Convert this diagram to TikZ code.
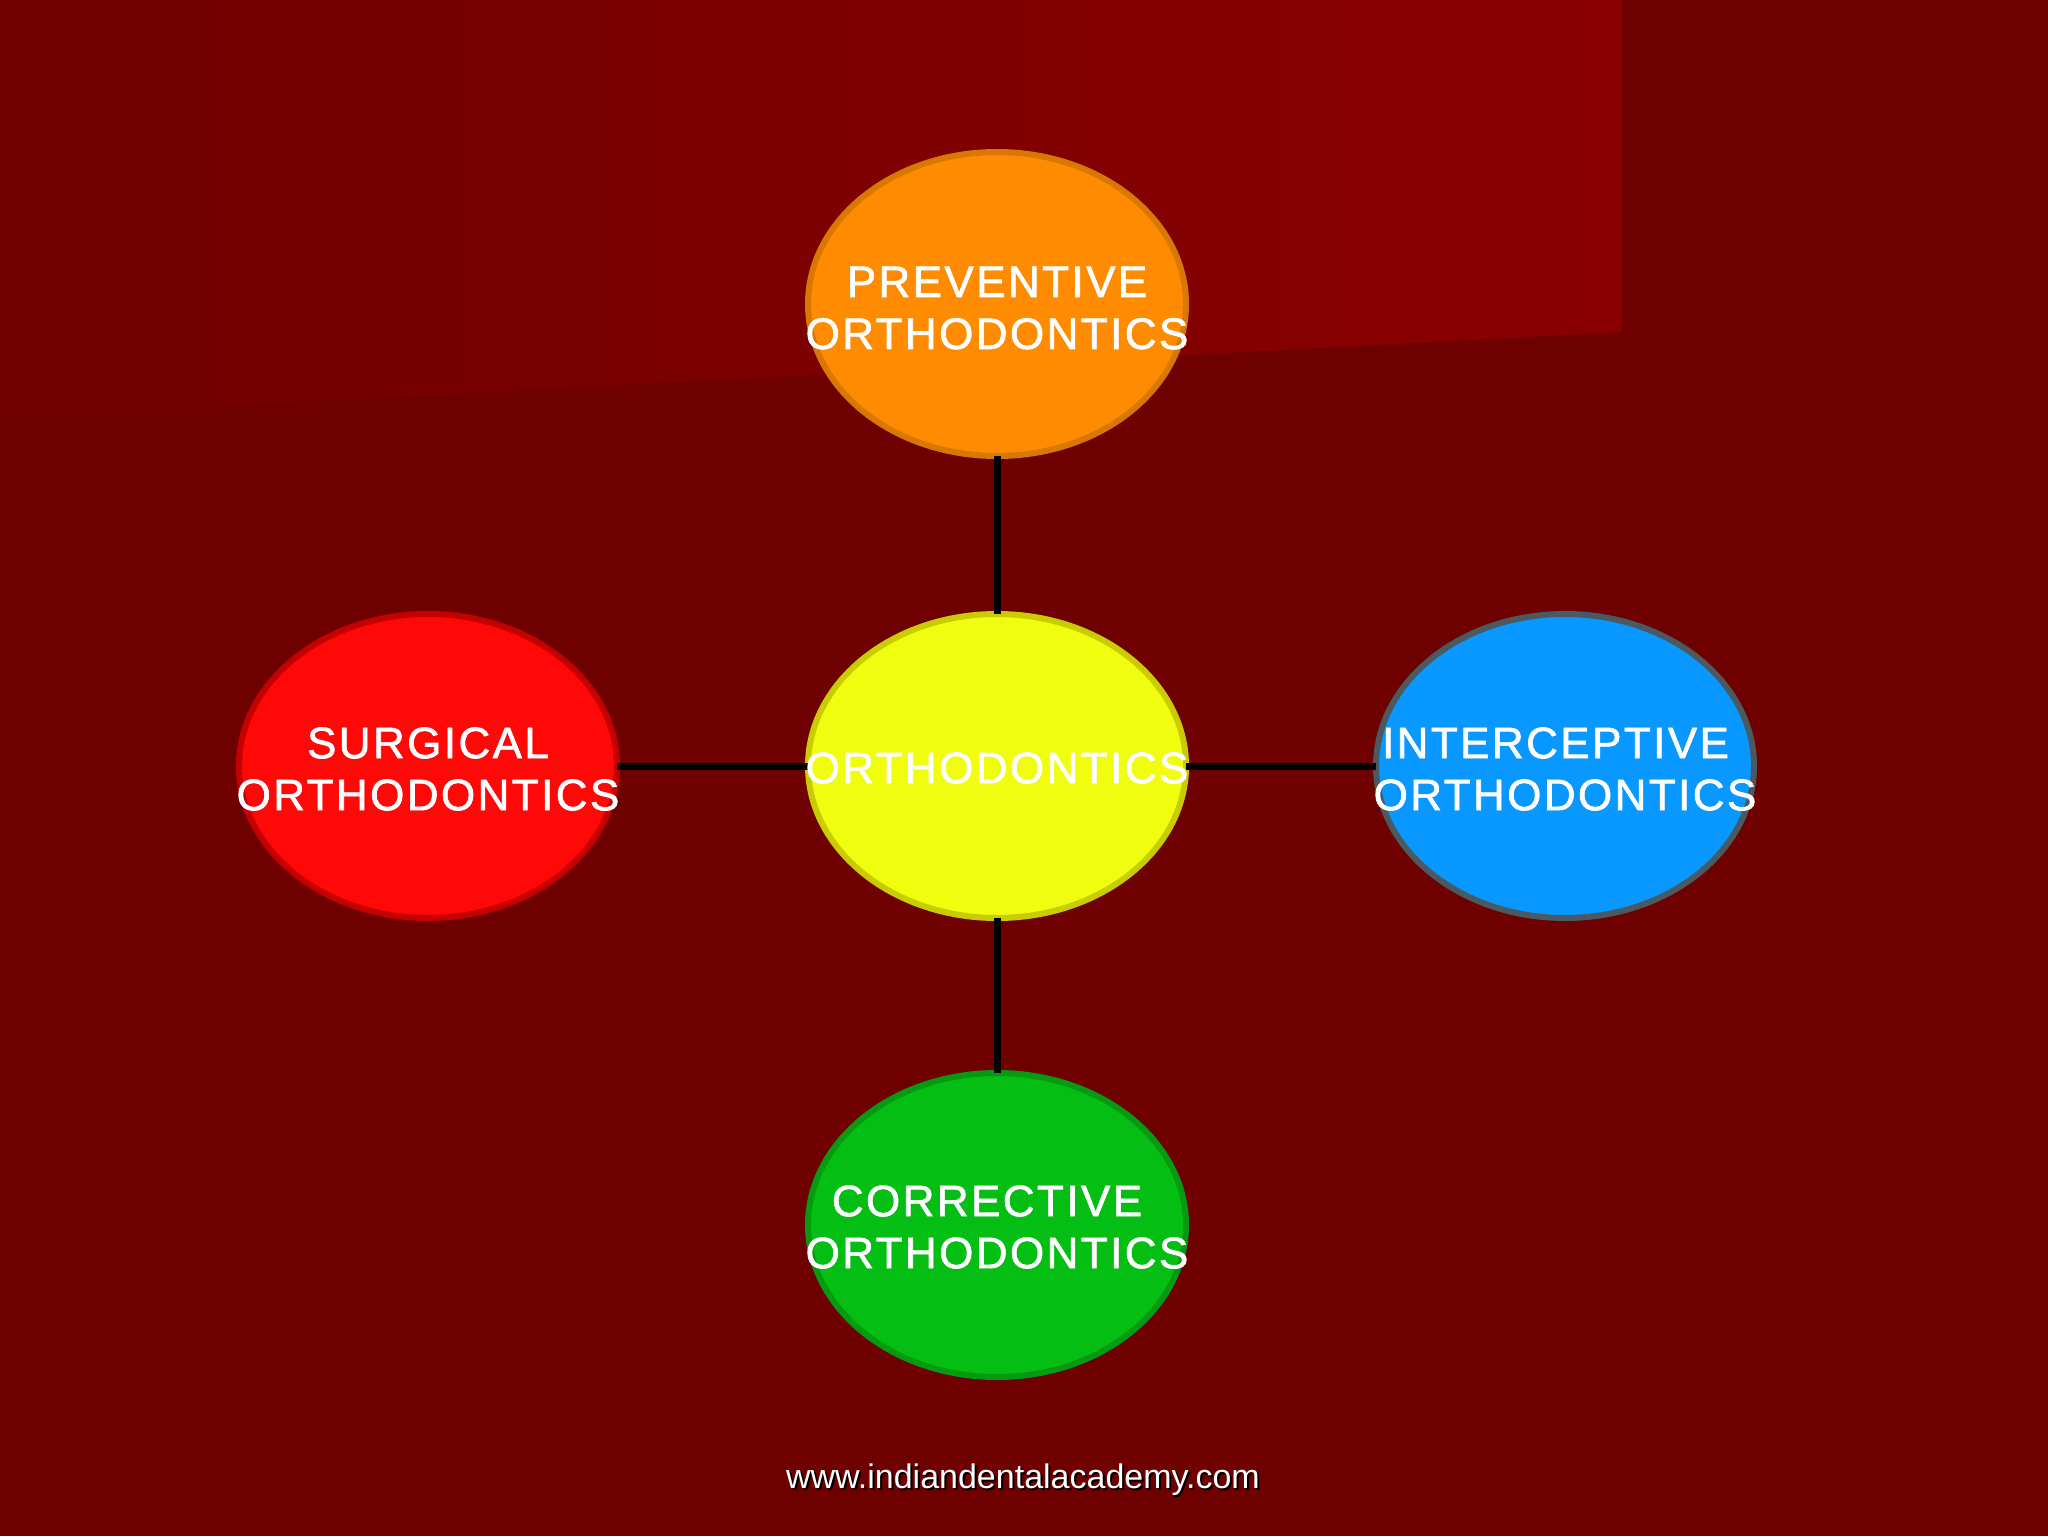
\documentclass[tikz,border=0pt]{standalone}
\usepackage{fontspec}
\setmainfont{Liberation Sans}
\newfontfamily\lblfont[LetterSpace=5.5,FakeBold=1.5]{Liberation Sans}
\usetikzlibrary{shapes.geometric}
\definecolor{bg}{HTML}{6E0000}
\definecolor{bgA}{HTML}{700000}
\definecolor{bgB}{HTML}{8A0000}
\definecolor{orangeF}{HTML}{FF8C00}
\definecolor{orangeD}{HTML}{D97800}
\definecolor{yellowF}{HTML}{F0FD0F}
\definecolor{yellowD}{HTML}{C8CC00}
\definecolor{redF}{HTML}{FF0808}
\definecolor{redD}{HTML}{C40000}
\definecolor{blueF}{HTML}{0898FF}
\definecolor{blueD}{HTML}{4A5A60}
\definecolor{greenF}{HTML}{04BE14}
\definecolor{greenD}{HTML}{069A10}
\begin{document}
\begin{tikzpicture}[x=0.5pt,y=-0.5pt,
  bubble/.style={ellipse, minimum width=189pt, minimum height=152pt, inner sep=0pt, outer sep=0pt, line width=3pt},
  lbl/.style={text=white, font=\lblfont\fontsize{22}{26}\selectfont, align=center, inner sep=0pt},
  link/.style={line width=3.5pt, draw=black},
  wmark/.style={font=\fontsize{17}{20}\selectfont, inner sep=0pt, anchor=base}]
\fill[bg] (0,0) rectangle (2048,1536);
\shade[left color=bgA, right color=bgB] (0,0) -- (1622,0) -- (1622,332) -- (0,418) -- cycle;
\useasboundingbox (0,0) rectangle (2048,1536);

\node[bubble, fill=orangeF, draw=orangeD] (prev) at (997,304) {};
\node[bubble, fill=yellowF, draw=yellowD] (ortho) at (997,766) {};
\node[bubble, fill=redF, draw=redD] (surg) at (428,766) {};
\node[bubble, fill=blueF, draw=blueD] (inter) at (1565,766) {};
\node[bubble, fill=greenF, draw=greenD] (corr) at (997,1225) {};

\draw[link] (prev.south) -- (ortho.north);
\draw[link] (surg.east) -- (ortho.west);
\draw[link] (ortho.east) -- (inter.west);
\draw[link] (ortho.south) -- (corr.north);

\node[lbl] (prevT) at (997,308) {PREVENTIVE\\ORTHODONTICS};
\node[lbl] (orthoT) at (997,768) {ORTHODONTICS};
\node[lbl] (surgT) at (428,769) {SURGICAL\\ORTHODONTICS};
\node[lbl] (interT) at (1565,769) {INTERCEPTIVE\kern9.5pt\\ORTHODONTICS};
\node[lbl] (corrT) at (997,1227) {CORRECTIVE\kern10pt\\ORTHODONTICS};

\node[wmark, text=black] (wmS) at (1025,1490) {www.indiandentalacademy.com};
\node[wmark, text=white] (wm) at (1023,1488) {www.indiandentalacademy.com};
\end{tikzpicture}
\end{document}
